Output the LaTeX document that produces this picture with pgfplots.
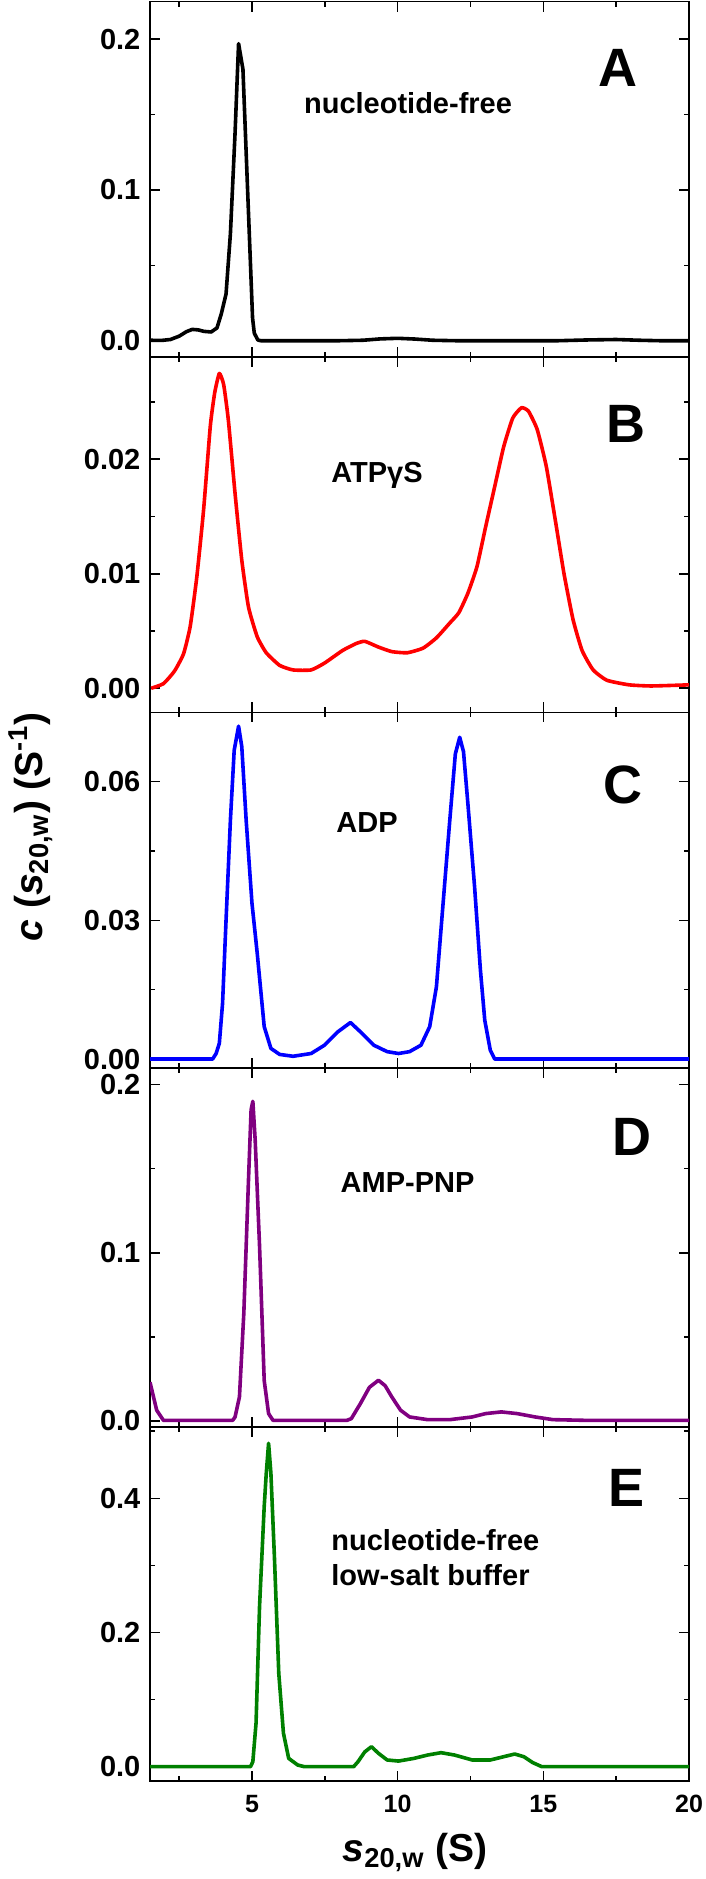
\documentclass[border=0pt]{standalone}
\usepackage{fontspec}
\setmainfont{Liberation Sans}
\usepackage{pgfplots}
\pgfplotsset{compat=1.18}
\definecolor{dpurple}{RGB}{128,0,128}
\definecolor{dgreen}{RGB}{0,128,0}
\pgfplotsset{
  panel/.style={
    scale only axis, width=269.5pt, xmin=1.5, xmax=20,
    anchor=north west,
    scaled y ticks=false, scaled x ticks=false,
    axis line style={line width=0.8pt},
    tick style={black, line width=0.8pt},
    major tick length=5pt, minor tick length=2.5pt,
    tick align=inside,
    xtick={5,10,15,20}, minor xtick={2.5,7.5,12.5,17.5},
    xticklabels={},
    yticklabel style={font=\fontsize{14.5}{16}\selectfont\bfseries, xshift=-1.3pt},
    xticklabel style={font=\fontsize{12.5}{15}\selectfont\bfseries, yshift=-3.8pt},
  },
  curve/.style={line width=1.8pt, line join=round, mark=none},
}
\newcommand{\px}[2]{(#1*0.5pt,-#2*0.5pt)}
\newcommand{\annfont}{\fontsize{14.5}{17.5}\selectfont\bfseries}
\newcommand{\letfont}{\fontsize{27}{30}\selectfont\bfseries}
\newcommand{\labfont}{\fontsize{19.5}{22}\selectfont\bfseries}
\begin{document}
\begin{tikzpicture}
% Panel A
\begin{axis}[panel, at={(75pt,-0.85pt)}, height=177.5pt,
  ymin=-0.0106, ymax=0.2248,
  ytick={0,0.1,0.2}, yticklabels={0.0,0.1,0.2}, minor ytick={0.05,0.15}]
\addplot[curve, black] coordinates {
(1.5,0.0003)(1.9,0.0002)(2.2,0.0008)(2.5,0.003)(2.75,0.006)(2.95,0.0075)(3.15,0.0072)(3.35,0.0062)(3.6,0.0058)(3.8,0.0085)(3.95,0.018)(4.11,0.031)(4.26,0.071)(4.42,0.138)(4.54,0.197)(4.69,0.18)(4.80,0.125)(4.92,0.065)(5.02,0.015)(5.08,0.005)(5.2,0.0005)(5.3,0)(8.0,0)(8.8,0.0003)(9.4,0.0012)(10.0,0.0016)(10.6,0.0011)(11.2,0.0003)(12,0)(15.5,0)(16.5,0.0005)(17.5,0.0008)(18.3,0.0003)(19,0)(20,0)};
\end{axis}
% Panel B
\begin{axis}[panel, at={(75pt,-178.35pt)}, height=177.8pt,
  ymin=-0.0021, ymax=0.02896,
  ytick={0,0.01,0.02}, yticklabels={0.00,0.01,0.02}, minor ytick={0.005,0.015,0.025}]
\addplot[curve, red, smooth, tension=0.3] coordinates {
(1.54,0.0)(1.96,0.0004)(2.34,0.0015)(2.65,0.003)(2.88,0.0054)(3.11,0.0098)(3.34,0.0156)(3.57,0.0229)(3.72,0.0258)(3.88,0.0275)(4.03,0.0265)(4.19,0.0234)(4.42,0.017)(4.65,0.0112)(4.88,0.0071)(5.18,0.0045)(5.49,0.0031)(5.95,0.002)(6.41,0.0016)(7.03,0.0016)(7.49,0.0022)(8.11,0.0033)(8.57,0.0039)(8.87,0.0041)(9.34,0.0036)(9.80,0.0032)(10.33,0.0031)(10.87,0.0035)(11.33,0.0044)(11.79,0.0057)(12.10,0.0066)(12.41,0.0083)(12.72,0.0106)(13.02,0.0141)(13.33,0.0176)(13.64,0.0211)(13.95,0.0236)(14.25,0.0245)(14.49,0.0242)(14.79,0.0226)(15.10,0.0194)(15.41,0.0147)(15.71,0.01)(16.02,0.006)(16.33,0.0033)(16.71,0.0016)(17.18,0.0007)(17.94,0.0003)(18.71,0.0002)(20,0.0003)};
\end{axis}
% Panel C
\begin{axis}[panel, at={(75pt,-356.15pt)}, height=178pt,
  ymin=-0.002, ymax=0.075,
  ytick={0,0.03,0.06}, yticklabels={0.00,0.03,0.06}, minor ytick={0.015,0.045}]
\addplot[curve, blue] coordinates {
(1.5,0)(3.65,0)(3.77,0.0012)(3.88,0.0034)(3.99,0.012)(4.11,0.030)(4.26,0.0517)(4.39,0.0668)(4.54,0.072)(4.65,0.0676)(4.80,0.0517)(5.00,0.0337)(5.18,0.0229)(5.42,0.007)(5.65,0.0023)(5.95,0.001)(6.41,0.0006)(7.03,0.0012)(7.49,0.003)(7.95,0.0059)(8.38,0.0079)(8.72,0.0059)(9.18,0.003)(9.64,0.0016)(10.03,0.0012)(10.41,0.0016)(10.80,0.003)(11.10,0.007)(11.33,0.0156)(11.56,0.0337)(11.79,0.0517)(11.98,0.066)(12.13,0.0696)(12.26,0.0665)(12.41,0.0553)(12.64,0.0373)(12.84,0.0193)(12.99,0.0084)(13.18,0.0019)(13.33,0)(20,0)};
\end{axis}
% Panel D
\begin{axis}[panel, at={(75pt,-534.15pt)}, height=179.2pt,
  ymin=-0.0034, ymax=0.2096,
  ytick={0,0.1,0.2}, yticklabels={0.0,0.1,0.2}, minor ytick={0.05,0.15}]
\addplot[curve, dpurple] coordinates {
(1.5,0.023)(1.73,0.0064)(1.96,0.0004)(4.34,0.0004)(4.42,0.0024)(4.57,0.0143)(4.72,0.064)(4.88,0.143)(4.97,0.185)(5.03,0.19)(5.11,0.167)(5.26,0.104)(5.42,0.024)(5.57,0.0044)(5.72,0.0004)(8.26,0.0004)(8.41,0.0014)(8.72,0.0103)(9.03,0.02)(9.34,0.0242)(9.57,0.021)(9.80,0.0143)(10.10,0.0064)(10.41,0.0024)(11.03,0.0008)(11.79,0.0008)(12.56,0.0024)(13.02,0.0044)(13.56,0.0054)(14.10,0.0044)(14.72,0.0024)(15.33,0.0008)(16.41,0.0004)(20,0.0004)};
\end{axis}
% Panel E
\begin{axis}[panel, at={(75pt,-713.35pt)}, height=177pt,
  ymin=-0.0209, ymax=0.5067,
  ytick={0,0.2,0.4}, yticklabels={0.0,0.2,0.4}, minor ytick={0.1,0.3,0.5},
  xticklabels={5,10,15,20}]
\addplot[curve, dgreen] coordinates {
(1.5,0)(4.95,0)(5.03,0.0075)(5.14,0.065)(5.26,0.239)(5.42,0.388)(5.49,0.437)(5.57,0.482)(5.65,0.437)(5.77,0.313)(5.92,0.139)(6.08,0.05)(6.26,0.0124)(6.57,0.0025)(6.8,0)(8.49,0)(8.64,0.0075)(8.87,0.022)(9.10,0.0298)(9.34,0.02)(9.64,0.01)(10.03,0.0084)(10.56,0.0124)(11.03,0.0174)(11.49,0.0209)(11.95,0.0174)(12.56,0.01)(13.18,0.01)(13.64,0.0149)(14.02,0.0189)(14.33,0.0149)(14.64,0.006)(14.95,0)(20,0)};
\end{axis}
% annotations
\node[font=\annfont] at \px{408}{103} {nucleotide-free};
\node[font=\letfont] at \px{618}{68} {A};
\node[font=\annfont] at \px{377}{475} {ATPγS};
\node[font=\letfont] at \px{626}{424} {B};
\node[font=\annfont] at \px{367}{823} {ADP};
\node[font=\letfont] at \px{623}{785} {C};
\node[font=\annfont] at \px{407.6}{1183} {AMP-PNP};
\node[font=\letfont] at \px{632}{1137} {D};
\node[font=\annfont, anchor=west, align=left, inner sep=0pt] at \px{331}{1558} {nucleotide-free\\low-salt buffer};
\node[font=\letfont] at \px{627}{1488} {E};
\node[rotate=90, font=\labfont] at \px{31}{827}
  {\itshape c\upshape\ (\itshape s\upshape\textsubscript{20,w}) (S\textsuperscript{-1})};
\node[anchor=base, font=\labfont] at \px{415}{1861}
  {\itshape s\upshape\textsubscript{20,w} (S)};
\pgfresetboundingbox
\path[use as bounding box] (0,0) rectangle (353pt,-939.5pt);
\end{tikzpicture}
\end{document}
